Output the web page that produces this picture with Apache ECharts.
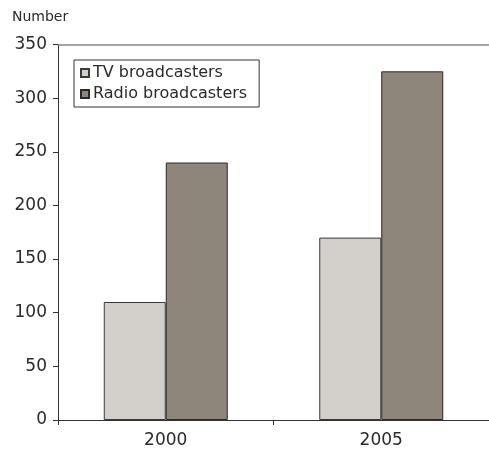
<!DOCTYPE html>
<html>
<head>
<meta charset="utf-8">
<script src="https://cdn.jsdelivr.net/npm/echarts@6/dist/echarts.min.js"></script>
<style>
  html, body { margin: 0; padding: 0; background: #fff; }
  #chart { width: 489px; height: 453px; }
</style>
</head>
<body>
<div id="chart"></div>
<script>
// 数据
const years = ['2000', '2005']
const tvBroadcasters = [110, 170]
const radioBroadcasters = [240, 325]
const seriesNames = ['TV broadcasters', 'Radio broadcasters']

const chart = echarts.init(document.getElementById('chart'))
const font = '"DejaVu Sans", sans-serif'

const option = {
  animation: false,
  textStyle: { fontFamily: font },
  grid: { left: 58, top: 44.5, width: 436, bottom: 33, containLabel: false },
  legend: {
    orient: 'vertical',
    left: 74,
    top: 60,
    padding: [5, 12, 5, 6],
    itemGap: 5,
    itemWidth: 8,
    itemHeight: 8,
    icon: 'rect',
    borderColor: '#333',
    borderWidth: 1,
    textStyle: { fontSize: 16, color: '#2a2a2a', fontFamily: font, padding: [0, 0, 0, -1] },
    data: seriesNames
  },
  xAxis: [
    {
      type: 'category',
      data: years,
      axisLine: { lineStyle: { color: '#333', width: 1 } },
      axisTick: { show: true, length: 5, lineStyle: { color: '#333' } },
      axisLabel: { fontSize: 17, color: '#2a2a2a', margin: 12, fontFamily: font }
    },
    {
      type: 'category',
      position: 'top',
      data: years,
      axisLine: { lineStyle: { color: '#888', width: 1.5 } },
      axisTick: { show: false },
      axisLabel: { show: false }
    }
  ],
  yAxis: {
    type: 'value',
    name: 'Number',
    nameLocation: 'end',
    nameGap: 20,
    nameTextStyle: { fontSize: 14, color: '#2a2a2a', align: 'left', padding: [0, 0, 0, -46], fontFamily: font },
    min: 0,
    max: 350,
    interval: 50,
    splitLine: { show: false },
    axisLine: { show: true, lineStyle: { color: '#333' } },
    axisTick: { show: true, length: 5, lineStyle: { color: '#333' } },
    axisLabel: { fontSize: 17, color: '#2a2a2a', margin: 11, fontFamily: font }
  },
  series: [
    {
      name: seriesNames[0],
      type: 'bar',
      data: tvBroadcasters,
      barWidth: 62,
      barGap: '0%',
      itemStyle: { color: '#d3cfcb', borderColor: '#3a3a3a', borderWidth: 1 }
    },
    {
      name: seriesNames[1],
      type: 'bar',
      data: radioBroadcasters,
      barWidth: 62,
      barGap: '0%',
      itemStyle: { color: '#8e867a', borderColor: '#2a2a2a', borderWidth: 1 }
    }
  ]
}

chart.setOption(option)
</script>
</body>
</html>
